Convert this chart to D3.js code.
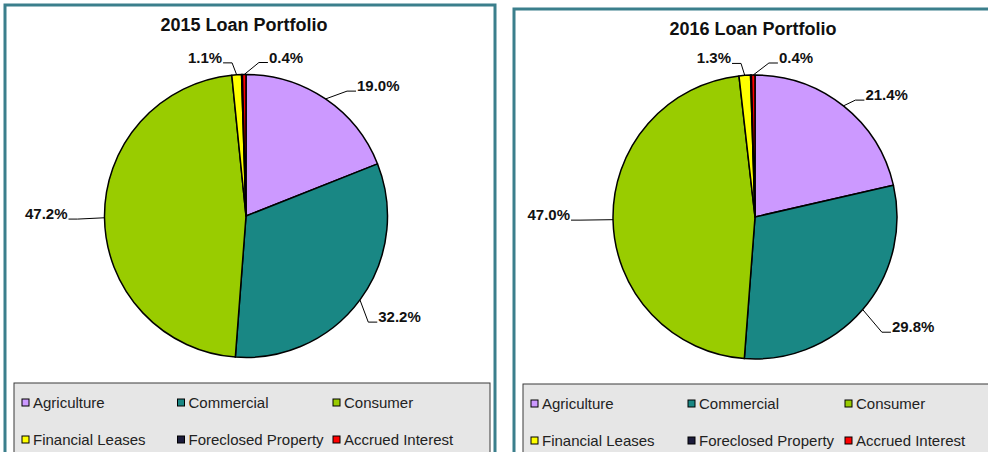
<!DOCTYPE html>
<html>
<head>
<meta charset="utf-8">
<script src="https://cdn.jsdelivr.net/npm/d3@7"></script>
<style>
body { margin: 0; background: #fff; }
text { font-family: "Liberation Sans", Arial, sans-serif; fill: #111; }
</style>
</head>
<body>
<div class="container"></div>
<script>
// data
var categories = ["Agriculture", "Commercial", "Consumer", "Financial Leases", "Foreclosed Property", "Accrued Interest"];
var colors = ["#cc99ff", "#198784", "#99cc00", "#ffff00", "#1c1c3c", "#ff0000"];
var values2015 = [19.0, 32.2, 47.2, 1.1, 0.1, 0.4];
var values2016 = [21.4, 29.8, 47.0, 1.3, 0.1, 0.4];
var titles = ["2015 Loan Portfolio", "2016 Loan Portfolio"];
var unlabelled = ["Foreclosed Property"];

var w = 988,
h = 452;

var svg = d3.select('.container')
.append('svg')
.attr('width', w)
.attr('height', h);

// layout per panel (label nudges are in px, by category index)
var panels = [
  {x: 5, y: 5, w: 490, title: titles[0], values: values2015, cx: 246, cy: 216, r: 141.5,
   legendX: 14, legendY: 383, legendW: 476, colW: 155.5,
   nudge: [[17, 12], [-2, 8], [-12, 1], [-12, 12], [0, 0], [24, 12]]},
  {x: 514, y: 9, w: 490, title: titles[1], values: values2016, cx: 755, cy: 217, r: 142,
   legendX: 523, legendY: 384, legendW: 480, colW: 157,
   nudge: [[6, 13], [10, 7], [-18, 0], [-11, 12], [0, 0], [25, 12]]}
];

var pie = d3.pie().sort(null).value(d => d);
var fmt = d3.format(".1f");

panels.forEach(function(p) {
  var g = svg.append('g');

  g.append('rect')
  .attr('x', p.x)
  .attr('y', p.y)
  .attr('width', p.w)
  .attr('height', h + 20)
  .style('fill', '#fff')
  .style('stroke', '#3b7f8c')
  .style('stroke-width', 3);

  g.append('text')
  .attr('x', p.cx - 2)
  .attr('y', p.y + 26)
  .attr('text-anchor', 'middle')
  .style('font-size', '18px')
  .style('font-weight', 'bold')
  .text(p.title);

  var arc = d3.arc().innerRadius(0).outerRadius(p.r);
  var arcs = pie(p.values);

  var pieG = g.append('g').attr('transform', 'translate(' + p.cx + ',' + p.cy + ')');

  pieG.selectAll('path')
  .data(arcs)
  .enter()
  .append('path')
  .attr('d', arc)
  .style('fill', (d, i) => colors[i])
  .style('stroke', '#000')
  .style('stroke-width', 1.5)
  .style('stroke-linejoin', 'round');

  // labels with leader lines
  var labelR = p.r + 24;
  arcs.forEach(function(a, i) {
    if (unlabelled.indexOf(categories[i]) >= 0) return;
    var m = (a.startAngle + a.endAngle) / 2;
    var ex = p.cx + Math.sin(m) * p.r,
        ey = p.cy - Math.cos(m) * p.r;
    var lx = p.cx + Math.sin(m) * labelR + p.nudge[i][0],
        ly = p.cy - Math.cos(m) * labelR + p.nudge[i][1];
    var right = lx >= p.cx;
    var bx = right ? lx - 9 : lx + 9;

    g.append('polyline')
    .attr('points', [[ex, ey], [bx, ly], [lx, ly]].map(q => q.join(',')).join(' '))
    .style('fill', 'none')
    .style('stroke', '#000')
    .style('stroke-width', 1);

    g.append('text')
    .attr('x', right ? lx + 1 : lx - 1)
    .attr('y', ly)
    .attr('text-anchor', right ? 'start' : 'end')
    .style('font-size', '15px')
    .style('font-weight', 'bold')
    .text(fmt(a.data) + '%');
  });

  // legend
  g.append('rect')
  .attr('x', p.legendX)
  .attr('y', p.legendY)
  .attr('width', p.legendW)
  .attr('height', h - p.legendY + 20)
  .style('fill', '#e6e6e6')
  .style('stroke', '#3a3a3a')
  .style('stroke-width', 1);

  var items = g.selectAll('.legend-item')
  .data(categories)
  .enter()
  .append('g')
  .attr('class', 'legend-item')
  .attr('transform', (d, i) => 'translate(' + (p.legendX + 8 + (i % 3) * p.colW) + ',' + (p.legendY + 20 + Math.floor(i / 3) * 37) + ')');

  items.append('rect')
  .attr('x', 0)
  .attr('y', -4)
  .attr('width', 7)
  .attr('height', 7)
  .style('fill', (d, i) => colors[i])
  .style('stroke', '#000')
  .style('stroke-width', 1);

  items.append('text')
  .attr('x', 11)
  .attr('y', 0)
  .attr('dy', '0.35em')
  .style('font-size', '15px')
  .style('fill', '#222')
  .text(d => d);
});
</script>
</body>
</html>
